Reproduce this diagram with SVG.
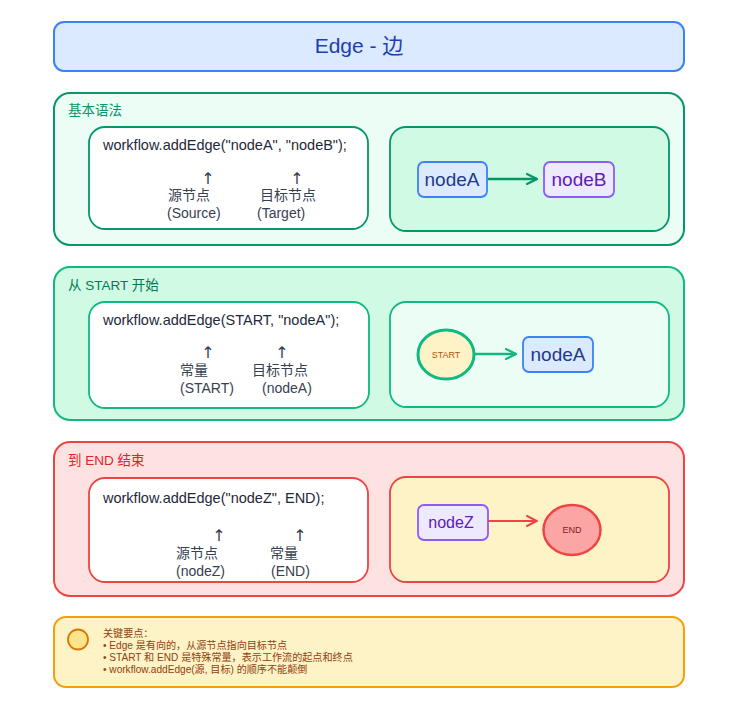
<svg xmlns="http://www.w3.org/2000/svg" width="734" height="702" viewBox="0 0 734 702">
<defs>
<style>
text{font-family:"Liberation Sans","Noto Sans CJK SC",sans-serif;}
.code{font-size:14.5px;fill:#1e293b;}
.lbl{font-size:14px;fill:#374151;}
.arr{font-family:"DejaVu Sans",sans-serif;font-size:16px;fill:#374151;text-anchor:middle;}
.sec{font-size:13.5px;}
.node{font-size:19px;text-anchor:middle;}
.note{font-size:10.1px;fill:#92400e;}
</style>
<marker id="mg1" viewBox="0 0 12 12" refX="11" refY="6" markerWidth="12" markerHeight="12" markerUnits="userSpaceOnUse" orient="auto"><path d="M1,1 L11,6 L1,11" fill="none" stroke="#059669" stroke-width="2.2" stroke-linecap="round"/></marker>
<marker id="mg2" viewBox="0 0 12 12" refX="11" refY="6" markerWidth="12" markerHeight="12" markerUnits="userSpaceOnUse" orient="auto"><path d="M1,1 L11,6 L1,11" fill="none" stroke="#10b981" stroke-width="2.2" stroke-linecap="round"/></marker>
<marker id="mr" viewBox="0 0 12 12" refX="11" refY="6" markerWidth="12" markerHeight="12" markerUnits="userSpaceOnUse" orient="auto"><path d="M1,1 L11,6 L1,11" fill="none" stroke="#ef4444" stroke-width="2" stroke-linecap="round"/></marker>
</defs>
<rect width="734" height="702" fill="#ffffff"/>

<g id="title">
<rect x="54" y="22" width="630" height="49" rx="10" fill="#dbeafe" stroke="#3b82f6" stroke-width="2"/>
<text x="359" y="53" font-size="21" fill="#1e40af" text-anchor="middle">Edge - 边</text>
</g>

<g id="section-basic">
<rect x="54" y="93" width="630" height="152" rx="16" fill="#ecfdf5" stroke="#059669" stroke-width="2"/>
<text class="sec" x="68" y="115" fill="#059669">基本语法</text>
</g>
<g id="code-basic">
<rect x="89" y="127" width="279" height="102" rx="16" fill="#ffffff" stroke="#059669" stroke-width="1.8"/>
<text class="code" x="103" y="150">workflow.addEdge("nodeA", "nodeB");</text>
<text class="arr" x="208" y="184">↑</text>
<text class="arr" x="297" y="184">↑</text>
<text class="lbl" x="168" y="200">源节点</text>
<text class="lbl" x="167" y="218">(Source)</text>
<text class="lbl" x="260" y="200">目标节点</text>
<text class="lbl" x="257" y="218">(Target)</text>
</g>
<g id="demo-basic">
<rect x="390" y="127" width="279" height="104" rx="16" fill="#d1fae5" stroke="#059669" stroke-width="1.8"/>
</g>
<g id="node-nodeA-1">
<rect x="418" y="162" width="69" height="35" rx="6" fill="#dbeafe" stroke="#3b82f6" stroke-width="1.8"/>
<text class="node" x="452" y="186" fill="#1e3a8a">nodeA</text>
</g>
<g id="node-nodeB">
<rect x="544" y="162" width="70" height="35" rx="6" fill="#ede9fe" stroke="#8b5cf6" stroke-width="1.8"/>
<text class="node" x="579" y="186" fill="#5b21b6">nodeB</text>
</g>

<g id="section-start">
<rect x="54" y="267" width="630" height="153" rx="16" fill="#d1fae5" stroke="#10b981" stroke-width="2"/>
<text class="sec" x="68" y="290" fill="#047857">从 START 开始</text>
</g>
<g id="code-start">
<rect x="89" y="302" width="280" height="106" rx="16" fill="#ffffff" stroke="#10b981" stroke-width="1.8"/>
<text class="code" x="103" y="325">workflow.addEdge(START, "nodeA");</text>
<text class="arr" x="208" y="358">↑</text>
<text class="arr" x="282" y="358">↑</text>
<text class="lbl" x="180" y="375">常量</text>
<text class="lbl" x="180" y="393">(START)</text>
<text class="lbl" x="252" y="375">目标节点</text>
<text class="lbl" x="262" y="393">(nodeA)</text>
</g>
<g id="demo-start">
<rect x="390" y="302" width="279" height="105" rx="16" fill="#ecfdf5" stroke="#10b981" stroke-width="1.8"/>
</g>
<g id="node-START">
<ellipse cx="446" cy="354.5" rx="28" ry="24.5" fill="#fef3c7" stroke="#10b981" stroke-width="3"/>
<text x="446" y="358" font-size="9" fill="#b45309" text-anchor="middle">START</text>
</g>
<g id="node-nodeA-2">
<rect x="523" y="337" width="70" height="35" rx="6" fill="#dbeafe" stroke="#3b82f6" stroke-width="1.8"/>
<text class="node" x="558" y="361" fill="#1e3a8a">nodeA</text>
</g>

<g id="section-end">
<rect x="54" y="442" width="630" height="154" rx="16" fill="#fee2e2" stroke="#ef4444" stroke-width="2"/>
<text class="sec" x="68" y="465" fill="#dc2626">到 END 结束</text>
</g>
<g id="code-end">
<rect x="89" y="478" width="279" height="104" rx="16" fill="#ffffff" stroke="#ef4444" stroke-width="1.8"/>
<text class="code" x="103" y="503">workflow.addEdge("nodeZ", END);</text>
<text class="arr" x="219" y="541">↑</text>
<text class="arr" x="300" y="541">↑</text>
<text class="lbl" x="176" y="558">源节点</text>
<text class="lbl" x="176" y="576">(nodeZ)</text>
<text class="lbl" x="270" y="558">常量</text>
<text class="lbl" x="271" y="576">(END)</text>
</g>
<g id="demo-end">
<rect x="390" y="477" width="279" height="105" rx="16" fill="#fef3c7" stroke="#ef4444" stroke-width="1.8"/>
</g>
<g id="node-nodeZ">
<rect x="418" y="505" width="70" height="35" rx="6" fill="#ede9fe" stroke="#8b5cf6" stroke-width="1.8"/>
<text x="451" y="528" font-size="16" fill="#5b21b6" text-anchor="middle">nodeZ</text>
</g>
<g id="node-END">
<ellipse cx="572" cy="530" rx="28.5" ry="25" fill="#fca5a5" stroke="#ef4444" stroke-width="2.5"/>
<text x="572" y="533" font-size="9" fill="#7f1d1d" text-anchor="middle">END</text>
</g>

<g id="connectors">
<line x1="488" y1="179" x2="537" y2="179" stroke="#059669" stroke-width="2.5" marker-end="url(#mg1)"/>
<line x1="474" y1="354" x2="516" y2="354" stroke="#10b981" stroke-width="2.5" marker-end="url(#mg2)"/>
<line x1="488" y1="521" x2="537" y2="521" stroke="#ef4444" stroke-width="2" marker-end="url(#mr)"/>
</g>

<g id="notes">
<rect x="54" y="617" width="630" height="70" rx="12" fill="#fef3c7" stroke="#f59e0b" stroke-width="2"/>
<circle cx="78" cy="639.5" r="10" fill="#fde68a" stroke="#d97706" stroke-width="1.8"/>
<text class="note" x="103" y="637">关键要点：</text>
<text class="note" x="103" y="649">• Edge 是有向的，从源节点指向目标节点</text>
<text class="note" x="103" y="661">• START 和 END 是特殊常量，表示工作流的起点和终点</text>
<text class="note" x="103" y="673">• workflow.addEdge(源, 目标) 的顺序不能颠倒</text>
</g>
</svg>
